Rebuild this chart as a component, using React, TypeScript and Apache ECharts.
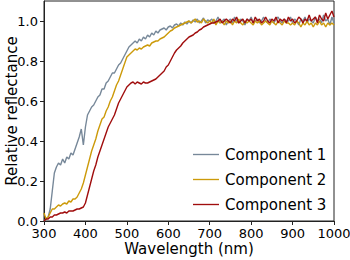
import React, { useEffect, useRef } from "react";
import * as echarts from "echarts";

const startNm = 300;
const stepNm = 5;

const component1 = [
  0.00, 0.01, 0.02, 0.06, 0.15, 0.24, 0.27, 0.29, 0.28, 0.31,
  0.29, 0.32, 0.31, 0.34, 0.33, 0.36, 0.39, 0.42, 0.46, 0.38,
  0.47, 0.53, 0.55, 0.57, 0.58, 0.60, 0.62, 0.63, 0.66, 0.66,
  0.69, 0.70, 0.72, 0.74, 0.74, 0.76, 0.78, 0.79, 0.81, 0.83,
  0.85, 0.87, 0.88, 0.89, 0.90, 0.89, 0.91, 0.90, 0.92, 0.91,
  0.93, 0.92, 0.94, 0.93, 0.95, 0.94, 0.955, 0.96, 0.965, 0.955,
  0.97, 0.975, 0.965, 0.98, 0.985, 0.975, 0.99, 0.98, 0.995, 0.985,
  1.00, 0.99, 1.005, 0.995, 1.01, 0.99, 1.00, 1.015, 0.99, 1.005,
  1.00, 1.01, 0.99, 1.00, 1.02, 0.99, 1.00, 1.01, 0.98, 1.00,
  1.01, 0.99, 1.02, 1.00, 0.99, 1.01, 1.00, 0.98, 1.01, 1.00,
  1.02, 0.99, 1.00, 1.01, 0.99, 1.00, 1.02, 1.00, 0.99, 1.01,
  1.00, 0.99, 1.01, 1.02, 1.00, 0.99, 1.01, 1.00, 1.00, 1.02,
  0.99, 1.01, 1.00, 0.98, 1.01, 1.00, 1.02, 0.99, 1.01, 1.00,
  0.99, 1.02, 1.00, 1.01, 0.99, 1.03, 1.00, 1.01, 0.98, 1.02,
  0.99,
];

const component2 = [
  0.04, 0.01, 0.02, 0.04, 0.06, 0.06, 0.07, 0.08, 0.075, 0.085,
  0.09, 0.085, 0.10, 0.095, 0.11, 0.11, 0.12, 0.14, 0.16, 0.19,
  0.23, 0.27, 0.31, 0.35, 0.38, 0.41, 0.45, 0.48, 0.51, 0.52,
  0.55, 0.57, 0.60, 0.62, 0.65, 0.68, 0.70, 0.73, 0.76, 0.79,
  0.82, 0.83, 0.84, 0.85, 0.86, 0.855, 0.865, 0.86, 0.87, 0.875,
  0.88, 0.875, 0.89, 0.895, 0.90, 0.90, 0.91, 0.915, 0.92, 0.93,
  0.94, 0.95, 0.955, 0.965, 0.97, 0.975, 0.98, 0.985, 0.99, 0.995,
  1.00, 0.99, 1.00, 1.01, 0.995, 1.00, 0.99, 1.01, 1.00, 0.99,
  1.00, 0.99, 1.01, 0.98, 1.00, 0.99, 1.00, 0.98, 1.00, 0.99,
  1.00, 0.98, 1.00, 0.99, 1.01, 0.99, 0.98, 1.00, 0.99, 1.00,
  0.99, 0.98, 1.00, 0.99, 1.00, 0.98, 0.99, 1.00, 0.99, 0.98,
  1.00, 0.99, 0.98, 1.00, 0.99, 0.98, 1.00, 0.99, 0.99, 0.98,
  0.99, 0.98, 1.00, 0.99, 0.97, 0.99, 0.98, 1.00, 0.98, 0.99,
  0.97, 0.99, 0.98, 1.00, 0.98, 0.99, 0.97, 0.99, 0.98, 0.99,
  0.98,
];

const component3 = [
  0.00, 0.01, 0.01, 0.02, 0.02, 0.03, 0.03, 0.035, 0.04, 0.04,
  0.045, 0.04, 0.05, 0.05, 0.05, 0.055, 0.06, 0.06, 0.065, 0.07,
  0.09, 0.13, 0.17, 0.21, 0.25, 0.28, 0.32, 0.35, 0.38, 0.41,
  0.44, 0.47, 0.49, 0.51, 0.53, 0.56, 0.59, 0.61, 0.63, 0.65,
  0.67, 0.68, 0.69, 0.695, 0.685, 0.695, 0.69, 0.685, 0.695, 0.69,
  0.69, 0.695, 0.70, 0.705, 0.71, 0.72, 0.73, 0.74, 0.75, 0.77,
  0.78, 0.80, 0.82, 0.84, 0.855, 0.865, 0.875, 0.89, 0.90, 0.91,
  0.92, 0.925, 0.93, 0.94, 0.945, 0.955, 0.96, 0.97, 0.975, 0.98,
  0.985, 0.99, 0.99, 0.995, 1.00, 1.01, 0.99, 1.00, 1.01, 1.00,
  0.99, 1.01, 1.00, 1.02, 0.99, 1.00, 1.01, 0.99, 1.01, 1.00,
  1.01, 0.99, 1.02, 1.00, 1.01, 0.99, 1.00, 1.02, 1.00, 0.99,
  1.01, 1.00, 1.02, 0.99, 1.01, 1.00, 1.01, 0.99, 1.02, 1.00,
  1.01, 0.99, 1.00, 1.02, 1.01, 0.99, 1.01, 1.00, 1.03, 1.00,
  1.01, 1.02, 0.99, 1.03, 1.01, 1.00, 1.04, 1.01, 1.03, 1.05,
  1.02,
];

const seriesNames = ["Component 1", "Component 2", "Component 3"];
const seriesColors = ["#778899", "#cc9a0a", "#a00d0d"];
const yTicks = [0, 0.2, 0.4, 0.6, 0.8, 1.0];

const FONT = "DejaVu Sans";

export default function App() {
  const ref = useRef<HTMLDivElement>(null);
  useEffect(() => {
    if (!ref.current) return;
    const chart = echarts.init(ref.current, undefined, { renderer: "svg" });
    const all = [component1, component2, component3];
    chart.setOption({
      animation: false,
      textStyle: { fontFamily: FONT },
      grid: {
        left: 44,
        right: 16,
        top: 1,
        bottom: 39,
        outerBoundsMode: "none",
        containLabel: false,
        show: true,
        borderColor: "#222",
        borderWidth: 1,
        backgroundColor: "transparent",
      },
      legend: {
        orient: "vertical",
        left: 188,
        top: 142,
        icon: "path://M0 0 H27 V1.4 H0 Z",
        itemWidth: 26,
        itemHeight: 14,
        itemGap: 10,
        textStyle: { fontFamily: FONT, fontSize: 15, color: "#000", padding: [0, 0, 0, 1] },
        data: seriesNames,
      },
      xAxis: {
        type: "value",
        min: 300,
        max: 1000,
        interval: 100,
        name: "Wavelength (nm)",
        nameLocation: "middle",
        nameGap: 20,
        nameMoveOverlap: false,
        nameTextStyle: { fontFamily: FONT, fontSize: 15, color: "#000" },
        axisLine: { show: true, lineStyle: { color: "#222", width: 1 } },
        axisTick: { show: true, length: 4, lineStyle: { color: "#222" } },
        axisLabel: {
          fontFamily: FONT,
          fontSize: 13,
          color: "#000",
          margin: 6,
          formatter: (v: number) => String(v),
        },
        splitLine: { show: false },
      },
      yAxis: {
        type: "value",
        min: 0,
        max: 1.1,
        interval: 0.2,
        name: "Relative reflectance",
        nameLocation: "middle",
        nameGap: 25,
        nameMoveOverlap: false,
        nameTextStyle: { fontFamily: FONT, fontSize: 15, color: "#000" },
        axisLine: { show: true, lineStyle: { color: "#222", width: 1 } },
        axisTick: { show: true, length: 4, lineStyle: { color: "#222" }, customValues: yTicks },
        axisLabel: {
          fontFamily: FONT,
          fontSize: 13,
          color: "#000",
          margin: 6,
          customValues: yTicks,
          formatter: (v: number) => v.toFixed(1),
        },
        splitLine: { show: false },
      },
      series: all.map((vals, k) => ({
        name: seriesNames[k],
        type: "line",
        showSymbol: false,
        symbol: "none",
        color: seriesColors[k],
        lineStyle: { color: seriesColors[k], width: 1.4 },
        data: vals.map((v, i) => [startNm + i * stepNm, v]),
      })),
    });
    return () => chart.dispose();
  }, []);
  return (
    <div
      ref={ref}
      style={{ position: "fixed", left: 0, top: 0, width: 350, height: 260, background: "#fff" }}
    />
  );
}
